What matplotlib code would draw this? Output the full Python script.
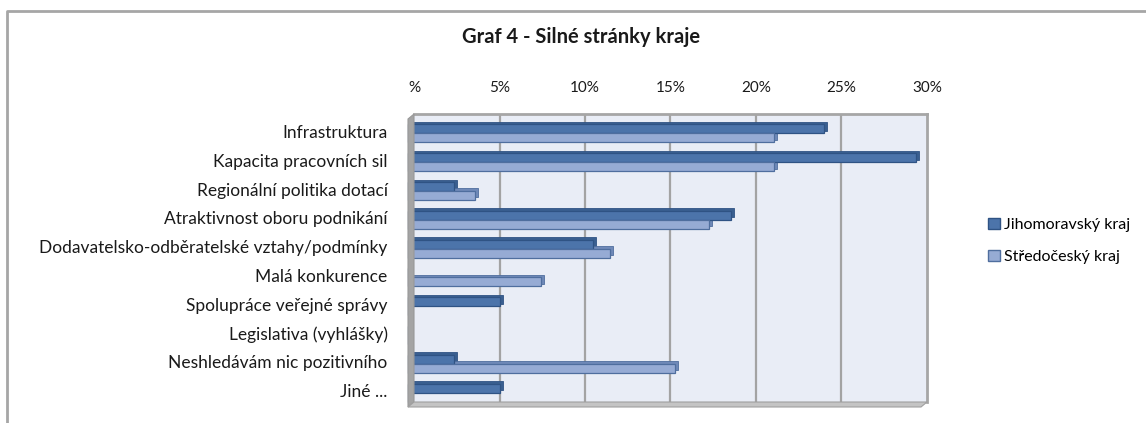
import matplotlib
matplotlib.use("Agg")
import matplotlib.pyplot as plt
from matplotlib.patches import Patch, Polygon
from matplotlib.transforms import offset_copy, ScaledTranslation
import numpy as np

plt.rcParams['font.family'] = ['Lato', 'DejaVu Sans']

# data
categories = [
    'Infrastruktura',
    'Kapacita pracovních sil',
    'Regionální politika dotací',
    'Atraktivnost oboru podnikání',
    'Dodavatelsko-odběratelské vztahy/podmínky',
    'Malá konkurence',
    'Spolupráce veřejné správy',
    'Legislativa (vyhlášky)',
    'Neshledávám nic pozitivního',
    'Jiné ...',
]
jihomoravsky = [24.3, 29.7, 2.7, 18.9, 10.8, 0.0, 5.4, 0.0, 2.7, 5.4]
stredocesky = [21.4, 21.4, 3.9, 17.6, 11.8, 7.8, 0.0, 0.0, 15.6, 0.0]
series_names = ['Jihomoravský kraj', 'Středočeský kraj']
xticks = [0, 5, 10, 15, 20, 25, 30]
xtick_labels = ['%', '5%', '10%', '15%', '20%', '25%', '30%']

W, H = 1146, 423
fig = plt.figure(figsize=(W / 100, H / 100), dpi=100)

def px(x, y):
    return (x / W, 1 - y / H)

# outer frame (open to the right / bottom like the crop)
fig.add_artist(plt.Line2D([px(7, 0)[0], px(7, 0)[0], 1.0], [0.0, px(0, 11)[1], px(0, 11)[1]],
                          transform=fig.transFigure, color='#A6A6A6', lw=2))

fig.text(px(581, 0)[0], px(0, 37)[1], 'Graf 4 - Silné stránky kraje',
         ha='center', va='center', fontsize=14.5, fontweight='bold', color='#1a1a1a')

# back wall
l, r, t, b = 414, 927, 114, 402
ax = fig.add_axes([l / W, 1 - b / H, (r - l) / W, (b - t) / H])
ax.set_facecolor('#E9EDF6')
ax.set_xlim(0, 30)
ax.set_ylim(len(categories) - 0.5, -0.5)

# side wall and floor (3D look)
dx, dy = 6, 5
fig.add_artist(Polygon([px(l - dx, t + dy), px(l, t), px(l, b), px(l - dx, b + dy)],
                       closed=True, transform=fig.transFigure, fc='#A4A4A4', ec='#999999', lw=0.8))
fig.add_artist(Polygon([px(l, b), px(r, b), px(r - dx, b + dy), px(l - dx, b + dy)],
                       closed=True, transform=fig.transFigure, fc='#C4C4C4', ec='#A0A0A0', lw=0.8))

for x in xticks[1:-1]:
    ax.axvline(x, color='#A3A3A3', lw=1.6, zorder=1)

for s in ['left', 'bottom']:
    ax.spines[s].set_visible(False)
for s in ['top', 'right']:
    ax.spines[s].set_color('#A6A6A6')
    ax.spines[s].set_linewidth(2)

y = np.arange(len(categories))
h = 0.31
back_tr = offset_copy(ax.transData, fig=fig, x=-3, y=-2.5, units='dots')
front_tr = offset_copy(ax.transData, fig=fig, x=-dx, y=-dy, units='dots')

colors = [('#4C74AA', '#2F5384', '#3A5F90'), ('#96ABD4', '#4F6E9E', '#6F89B8')]
for vals, off, (fc, ec, sc) in zip([jihomoravsky, stredocesky], [-h / 2, h / 2], colors):
    ax.barh(y + off, vals, height=h, color=sc, edgecolor=ec, lw=0.6,
            transform=back_tr, zorder=3, clip_on=False)
    ax.barh(y + off, vals, height=h, color=fc, edgecolor=ec, lw=0.9,
            transform=front_tr, zorder=4, clip_on=False)

ax.xaxis.tick_top()
ax.set_xticks(xticks)
ax.set_xticklabels(xtick_labels, fontsize=11, color='#1a1a1a')
ax.tick_params(axis='x', length=0, pad=14)
ax.set_yticks(y)
ax.set_yticklabels(categories, fontsize=12.5, color='#1a1a1a')
ax.tick_params(axis='y', length=0, pad=19)
shift = ScaledTranslation(0, -3 / 100, fig.dpi_scale_trans)
for lab in ax.get_yticklabels():
    lab.set_transform(lab.get_transform() + shift)

handles = [Patch(facecolor=colors[0][0], edgecolor=colors[0][1]),
           Patch(facecolor=colors[1][0], edgecolor=colors[1][1])]
fig.legend(handles, series_names, loc='center left', bbox_to_anchor=px(982, 241),
           frameon=False, fontsize=11.5, handlelength=0.7, handleheight=0.7,
           handletextpad=0.3, labelspacing=1.1, borderaxespad=0)

fig.savefig('out.png', dpi=100)
